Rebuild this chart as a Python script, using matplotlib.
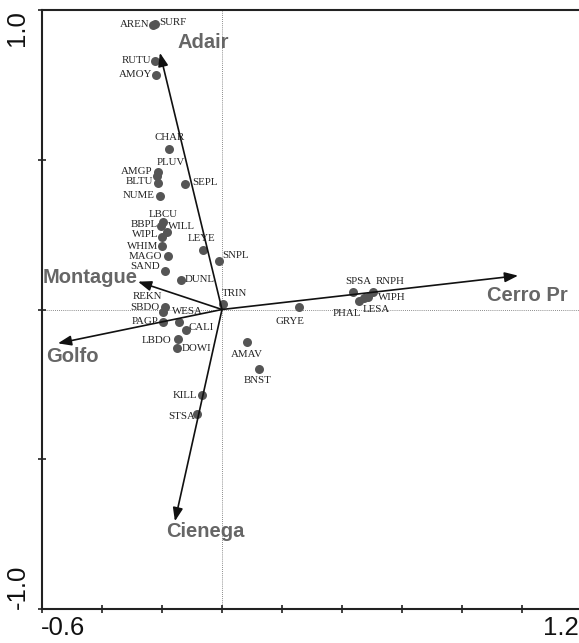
import numpy as np
import matplotlib.pyplot as plt

# species scores (axis 1, axis 2)
species = ["AREN", "SURF", "RUTU", "AMOY", "CHAR", "PLUV", "AMGP", "BLTU", "SEPL",
           "NUME", "LBCU", "BBPL", "WILL", "WIPL", "WHIM", "MAGO", "SAND", "DUNL",
           "LEYE", "SNPL", "TRIN", "REKN", "SBDO", "WESA", "PAGP", "CALI", "LBDO",
           "DOWI", "AMAV", "BNST", "KILL", "STSA", "GRYE", "SPSA", "RNPH", "WIPH",
           "PHAL", "LESA"]
ax1 = [-0.230, -0.223, -0.223, -0.220, -0.177, -0.213, -0.217, -0.213, -0.123,
       -0.207, -0.197, -0.203, -0.183, -0.200, -0.200, -0.180, -0.190, -0.137,
       -0.063, -0.010, 0.003, -0.190, -0.197, -0.143, -0.197, -0.120, -0.147,
       -0.150, 0.083, 0.123, -0.067, -0.083, 0.257, 0.437, 0.503, 0.487,
       0.457, 0.473]
ax2 = [0.950, 0.953, 0.830, 0.783, 0.537, 0.460, 0.447, 0.423, 0.420,
       0.380, 0.293, 0.280, 0.260, 0.243, 0.213, 0.180, 0.127, 0.097,
       0.200, 0.163, 0.017, 0.010, -0.007, -0.043, -0.043, -0.067, -0.100,
       -0.127, -0.110, -0.200, -0.287, -0.350, 0.007, 0.060, 0.060, 0.043,
       0.027, 0.040]

# environmental vectors
env = ["Adair", "Montague", "Golfo", "Cienega", "Cerro Pr"]
env1 = [-0.207, -0.280, -0.547, -0.157, 0.987]
env2 = [0.857, 0.093, -0.113, -0.707, 0.113]

# label placement: (ha, dx px, dy px)
lab_pos = {
    "AREN": ("right", -4, 0), "SURF": ("left", 4, 2), "RUTU": ("right", -4, 0),
    "AMOY": ("right", -4, 0), "CHAR": ("center", 1, 11), "PLUV": ("left", -1, 9),
    "AMGP": ("right", -5, 4), "BLTU": ("right", -5, 1), "SEPL": ("left", 7, 1),
    "NUME": ("right", -5, 0), "LBCU": ("center", 0, 7), "BBPL": ("right", -3, 1),
    "WILL": ("left", 1, 5), "WIPL": ("right", -4, 2), "WHIM": ("right", -4, -1),
    "MAGO": ("right", -6, -1), "SAND": ("right", -5, 5), "DUNL": ("left", 4, 1),
    "LEYE": ("center", -2, 11), "SNPL": ("left", 3, 5), "TRIN": ("left", -1, 11),
    "REKN": ("right", -3, 10), "SBDO": ("right", -3, 4), "WESA": ("left", -7, 11),
    "PAGP": ("right", -4, 1), "CALI": ("left", 3, 2), "LBDO": ("right", -6, -1),
    "DOWI": ("left", 5, -1), "AMAV": ("center", 0, -12), "BNST": ("center", -1, -11),
    "KILL": ("right", -5, 0), "STSA": ("right", -2, -2), "GRYE": ("center", -9, -14),
    "SPSA": ("center", 5, 10), "RNPH": ("center", 17, 10), "WIPH": ("left", 10, -1),
    "PHAL": ("center", -12, -12), "LESA": ("left", -1, -12),
}
env_lab = {"Adair": (-0.063, 0.89), "Montague": (-0.44, 0.108), "Golfo": (-0.5, -0.157),
           "Cienega": (-0.057, -0.74), "Cerro Pr": (1.017, 0.047)}

fig = plt.figure(figsize=(5.79, 6.43), dpi=100)
ax = fig.add_axes([42 / 579, 34 / 643, 540 / 579, 599 / 643])
ax.set_xlim(-0.6, 1.2)
ax.set_ylim(-1.0, 1.0)

ax.axhline(0, color="#666666", ls=(0, (1, 1.5)), lw=0.6, zorder=1)
ax.axvline(0, color="#666666", ls=(0, (1, 1.5)), lw=0.6, zorder=1)

ax.scatter(ax1, ax2, s=42, color="#555555", zorder=3, linewidths=0)
for n, x, y in zip(species, ax1, ax2):
    ha, dx, dy = lab_pos[n]
    ax.annotate(n, (x, y), xytext=(dx * 0.72, dy * 0.72), textcoords="offset points",
                ha=ha, va="center", fontsize=7.8, family="Liberation Serif",
                color="#222222", zorder=4)

for n, x, y in zip(env, env1, env2):
    ax.annotate("", xy=(x, y), xytext=(0, 0),
                arrowprops=dict(arrowstyle="-|>,head_length=0.8,head_width=0.3",
                                color="#111111", lw=1.2, shrinkA=0, shrinkB=0),
                zorder=5)
    lx, ly = env_lab[n]
    ax.text(lx, ly, n, ha="center", va="center", fontsize=14.5, fontweight="bold",
            family="Liberation Sans", color="#666666", zorder=6)

for s in ["left", "bottom", "top"]:
    ax.spines[s].set_linewidth(1.5)
    ax.spines[s].set_color("#222222")
ax.spines["right"].set_visible(False)

ax.set_xticks(np.arange(-0.6, 1.21, 0.2))
ax.set_yticks([-1.0, -0.5, 0, 0.5, 1.0])
ax.tick_params(direction="inout", length=6, width=1.2, color="#222222",
               labelbottom=False, labelleft=False)

tk = dict(fontsize=18.5, family="Liberation Sans", color="#111111",
          textcoords="offset points", annotation_clip=False)
ax.annotate("-0.6", (-0.6, 0), xycoords=("data", "axes fraction"), xytext=(-1, -5),
            ha="left", va="top", **tk)
ax.annotate("1.2", (1.19, 0), xycoords=("data", "axes fraction"), xytext=(0, -5),
            ha="right", va="top", **tk)
ax.annotate("1.0", (0, 1.0), xycoords=("axes fraction", "data"), xytext=(-9, 0),
            ha="right", va="top", rotation=90, **tk)
ax.annotate("-1.0", (0, -1.0), xycoords=("axes fraction", "data"), xytext=(-9, 0),
            ha="right", va="bottom", rotation=90, **tk)

fig.savefig("out.png", dpi=100)
